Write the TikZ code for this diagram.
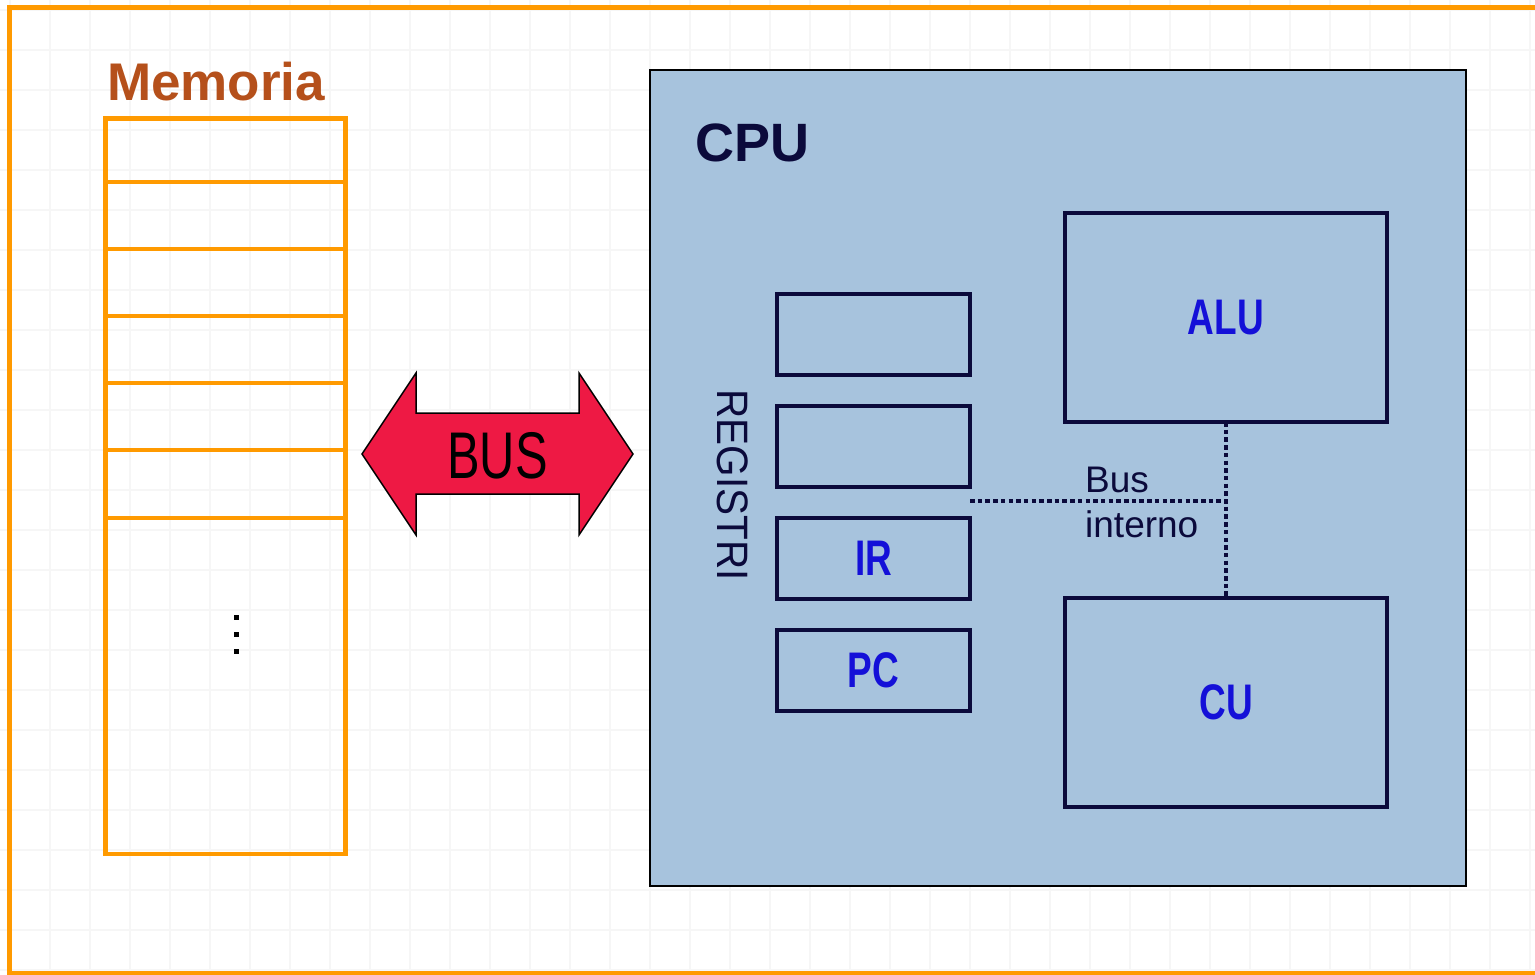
\documentclass[tikz,border=0pt]{standalone}
\usepackage{fontspec}
\setmainfont{Liberation Sans}
\usepackage{graphicx}
\definecolor{frameorange}{HTML}{FF9A00}
\definecolor{membrown}{HTML}{B5501B}
\definecolor{cpufill}{HTML}{A7C3DD}
\definecolor{navy}{HTML}{0B0A3B}
\definecolor{regblue}{HTML}{1410D8}
\definecolor{busred}{HTML}{EE1944}
\definecolor{gridgray}{HTML}{F6F6F6}
\tikzset{
  memline/.style={draw=frameorange, line width=4.5pt},
  regbox/.style={draw=navy, line width=4.5pt, minimum width=193pt, minimum height=81pt, inner sep=0pt, outer sep=0pt, anchor=north west},
  bigbox/.style={draw=navy, line width=4.5pt, minimum width=322pt, minimum height=209pt, inner sep=0pt, outer sep=0pt, anchor=north west},
  boxlabel/.style={text=regblue, font=\fontsize{50}{50}\selectfont\bfseries},
  intbus/.style={draw=navy, line width=4.5pt, dash pattern=on 4.5pt off 3.2pt},
}
\newcommand{\narrow}[1]{\scalebox{0.74}[1]{#1}}
\begin{document}
\begin{tikzpicture}[x=1pt,y=-1pt]
\useasboundingbox (0,0) rectangle (1535,975);
\fill[white] (0,0) rectangle (1535,975);
% grid
\foreach \g in {10,50,...,1530} \draw[gridgray, line width=1.5pt] (\g,0) -- (\g,975);
\foreach \g in {10,50,...,970} \draw[gridgray, line width=1.5pt] (0,\g) -- (1535,\g);
% outer frame (open on the right)
\draw[frameorange, line width=4.5pt] (1540,7.5) -- (9.5,7.5) -- (9.5,973.5) -- (1540,973.5);
% memory
\node[anchor=base west, text=membrown, font=\fontsize{53}{53}\selectfont\bfseries, inner sep=0pt] (memtitle) at (107,100) {Memoria};
\draw[memline] (105.5,118.5) rectangle (345.5,854);
\foreach \yy in {182,249,316,383,450,518} \draw[memline] (105.5,\yy) -- (345.5,\yy);
\foreach \yy in {617,634,651} \fill[black] (234,\yy-2.5) rectangle (239,\yy+2.5);
% BUS double arrow
\draw[fill=busred, draw=black, line width=1.5pt]
  (362,454) -- (416,373) -- (416,413) -- (579,413) -- (579,373) -- (633,454)
  -- (579,535) -- (579,494) -- (416,494) -- (416,535) -- cycle;
\node[font=\fontsize{66}{66}\selectfont, inner sep=0pt] (bus) at (497.5,456) {\narrow{BUS}};
% CPU
\draw[fill=cpufill, draw=black, line width=2pt] (650,70) rectangle (1466,886);
\node[anchor=base west, text=navy, font=\fontsize{54}{54}\selectfont\bfseries, inner sep=0pt] (cputitle) at (695,161) {CPU};
% registers
\node[regbox] (r1) at (777,294) {};
\node[regbox] (r2) at (777,406) {};
\node[regbox] (ir) at (777,518) {};
\node[regbox] (pc) at (777,630) {};
\node[boxlabel] at (ir.center) {\narrow{IR}};
\node[boxlabel] at (pc.center) {\narrow{PC}};
\node[rotate=-90, text=navy, font=\fontsize{44}{44}\selectfont, inner sep=0pt] (registri) at (733,485) {\scalebox{0.92}[1]{REGISTRI}};
% ALU and CU
\node[bigbox] (alu) at (1065,213) {};
\node[bigbox] (cu) at (1065,598) {};
\node[boxlabel] at (alu.center) {\narrow{ALU}};
\node[boxlabel] at (cu.center) {\narrow{CU}};
% internal bus
\coordinate (junction) at (1226,501);
\draw[intbus] (alu.south -| junction) -- (cu.north -| junction);
\draw[intbus] (r2.east |- junction) -- (junction);
\node[anchor=base west, text=navy, font=\fontsize{37}{37}\selectfont, inner sep=0pt] (busl) at (1085,492) {Bus};
\node[anchor=base west, text=navy, font=\fontsize{37}{37}\selectfont, inner sep=0pt] (internol) at (1085,537) {interno};
\end{tikzpicture}
\end{document}
